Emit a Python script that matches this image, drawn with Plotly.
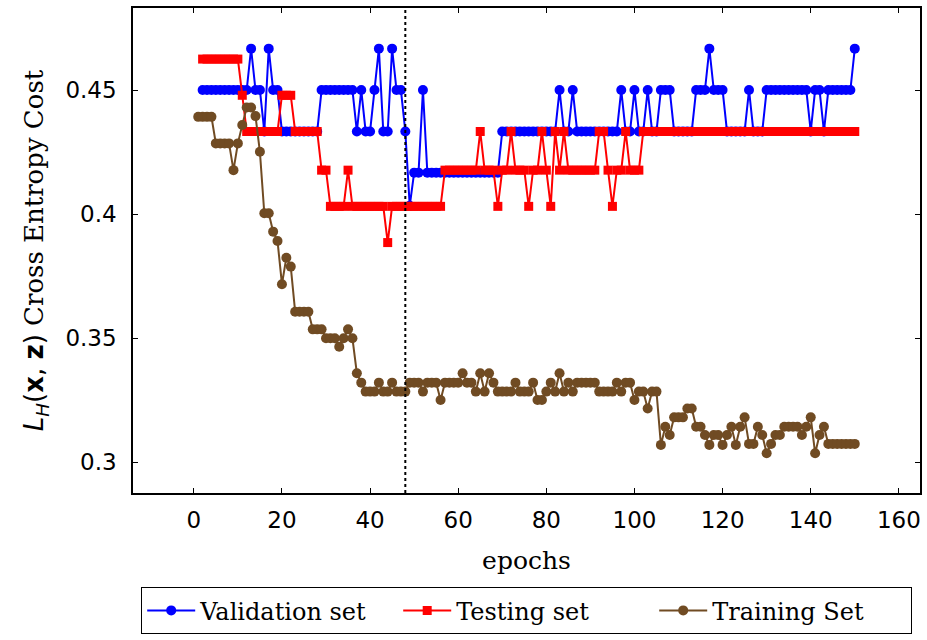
import plotly.graph_objects as go

# epochs
train_epochs = list(range(1, 151))
eval_epochs = list(range(2, 151))

validation_cost = [
    # 2-11
    0.45, 0.45, 0.45, 0.45, 0.45, 0.45, 0.45, 0.45, 0.45, 0.45,
    # 12-21
    0.45, 0.4667, 0.45, 0.45, 0.4333, 0.4667, 0.45, 0.45, 0.4333, 0.4333,
    # 22-31
    0.4333, 0.4333, 0.4333, 0.4333, 0.4333, 0.4333, 0.4333, 0.45, 0.45, 0.45,
    # 32-41
    0.45, 0.45, 0.45, 0.45, 0.45, 0.4333, 0.45, 0.4333, 0.4333, 0.45,
    # 42-51
    0.4667, 0.4333, 0.4333, 0.4667, 0.45, 0.45, 0.4333, 0.4033, 0.4167, 0.4167,
    # 52-61
    0.45, 0.4167, 0.4167, 0.4167, 0.4167, 0.4167, 0.4167, 0.4167, 0.4167, 0.4167,
    # 62-71
    0.4167, 0.4167, 0.4167, 0.4167, 0.4167, 0.4167, 0.4167, 0.4167, 0.4333, 0.4333,
    # 72-81
    0.4333, 0.4333, 0.4333, 0.4333, 0.4333, 0.4333, 0.4333, 0.4333, 0.4333, 0.4333,
    # 82-91
    0.4333, 0.45, 0.4333, 0.4333, 0.45, 0.4333, 0.4333, 0.4333, 0.4333, 0.4333,
    # 92-101
    0.4333, 0.4333, 0.4333, 0.4333, 0.4333, 0.45, 0.4333, 0.4333, 0.45, 0.4333,
    # 102-111
    0.4333, 0.45, 0.4333, 0.4333, 0.45, 0.45, 0.45, 0.4333, 0.4333, 0.4333,
    # 112-121
    0.4333, 0.4333, 0.45, 0.45, 0.45, 0.4667, 0.45, 0.45, 0.45, 0.4333,
    # 122-131
    0.4333, 0.4333, 0.4333, 0.4333, 0.45, 0.4333, 0.4333, 0.4333, 0.45, 0.45,
    # 132-141
    0.45, 0.45, 0.45, 0.45, 0.45, 0.45, 0.45, 0.45, 0.4333, 0.45,
    # 142-150
    0.45, 0.4333, 0.45, 0.45, 0.45, 0.45, 0.45, 0.45, 0.4667,
]

testing_cost = [
    # 2-11
    0.4625, 0.4625, 0.4625, 0.4625, 0.4625, 0.4625, 0.4625, 0.4625, 0.4625, 0.4479,
    # 12-21
    0.4333, 0.4333, 0.4333, 0.4333, 0.4333, 0.4333, 0.4333, 0.4333, 0.4479, 0.4479,
    # 22-31
    0.4479, 0.4333, 0.4333, 0.4333, 0.4333, 0.4333, 0.4333, 0.4177, 0.4177, 0.4031,
    # 32-41
    0.4031, 0.4031, 0.4031, 0.4177, 0.4031, 0.4031, 0.4031, 0.4031, 0.4031, 0.4031,
    # 42-51
    0.4031, 0.4031, 0.3885, 0.4031, 0.4031, 0.4031, 0.4031, 0.4031, 0.4031, 0.4031,
    # 52-61
    0.4031, 0.4031, 0.4031, 0.4031, 0.4031, 0.4177, 0.4177, 0.4177, 0.4177, 0.4177,
    # 62-71
    0.4177, 0.4177, 0.4177, 0.4333, 0.4177, 0.4177, 0.4177, 0.4031, 0.4177, 0.4177,
    # 72-81
    0.4333, 0.4177, 0.4177, 0.4177, 0.4031, 0.4177, 0.4177, 0.4333, 0.4177, 0.4031,
    # 82-91
    0.4333, 0.4177, 0.4333, 0.4177, 0.4177, 0.4177, 0.4177, 0.4177, 0.4177, 0.4177,
    # 92-101
    0.4333, 0.4333, 0.4177, 0.4031, 0.4177, 0.4177, 0.4333, 0.4177, 0.4177, 0.4177,
    # 102-111
    0.4333, 0.4333, 0.4333, 0.4333, 0.4333, 0.4333, 0.4333, 0.4333, 0.4333, 0.4333,
    # 112-121
    0.4333, 0.4333, 0.4333, 0.4333, 0.4333, 0.4333, 0.4333, 0.4333, 0.4333, 0.4333,
    # 122-131
    0.4333, 0.4333, 0.4333, 0.4333, 0.4333, 0.4333, 0.4333, 0.4333, 0.4333, 0.4333,
    # 132-141
    0.4333, 0.4333, 0.4333, 0.4333, 0.4333, 0.4333, 0.4333, 0.4333, 0.4333, 0.4333,
    # 142-150
    0.4333, 0.4333, 0.4333, 0.4333, 0.4333, 0.4333, 0.4333, 0.4333, 0.4333,
]

training_cost = [
    # 1-10
    0.4392, 0.4392, 0.4392, 0.4392, 0.4285, 0.4285, 0.4285, 0.4285, 0.4177, 0.4285,
    # 11-20
    0.4359, 0.443, 0.443, 0.4395, 0.4251, 0.4003, 0.4003, 0.3929, 0.3891, 0.3717,
    # 21-30
    0.3824, 0.3788, 0.3606, 0.3606, 0.3606, 0.3606, 0.3535, 0.3535, 0.3535, 0.3499,
    # 31-40
    0.3499, 0.3499, 0.3465, 0.3499, 0.3535, 0.3499, 0.3358, 0.332, 0.3284, 0.3284,
    # 41-50
    0.3284, 0.332, 0.3284, 0.3284, 0.332, 0.3284, 0.3284, 0.3284, 0.332, 0.332,
    # 51-60
    0.332, 0.3284, 0.332, 0.332, 0.332, 0.325, 0.332, 0.332, 0.332, 0.332,
    # 61-70
    0.3358, 0.332, 0.332, 0.3284, 0.3358, 0.3284, 0.3358, 0.332, 0.3284, 0.3284,
    # 71-80
    0.3284, 0.3284, 0.332, 0.3284, 0.3284, 0.3284, 0.332, 0.325, 0.325, 0.3284,
    # 81-90
    0.332, 0.3284, 0.3358, 0.3284, 0.332, 0.3284, 0.332, 0.332, 0.332, 0.332,
    # 91-100
    0.332, 0.3284, 0.3284, 0.3284, 0.3284, 0.332, 0.3284, 0.332, 0.332, 0.325,
    # 101-110
    0.3284, 0.3284, 0.3216, 0.3284, 0.3284, 0.3069, 0.3142, 0.3109, 0.318, 0.318,
    # 111-120
    0.318, 0.3216, 0.3216, 0.3142, 0.3142, 0.3109, 0.3069, 0.3109, 0.3109, 0.3069,
    # 121-130
    0.3109, 0.3142, 0.3069, 0.3142, 0.318, 0.3073, 0.3073, 0.3142, 0.3109, 0.3035,
    # 131-140
    0.3073, 0.3109, 0.3109, 0.3142, 0.3142, 0.3142, 0.3142, 0.3109, 0.3142, 0.318,
    # 141-150
    0.3035, 0.3109, 0.3142, 0.3073, 0.3073, 0.3073, 0.3073, 0.3073, 0.3073, 0.3073,
]

x_ticks = [0, 20, 40, 60, 80, 100, 120, 140, 160]
y_ticks = [0.3, 0.35, 0.4, 0.45]
y_tick_text = ["0.3", "0.35", "0.4", "0.45"]
marker_epoch = 48

SERIF = "DejaVu Serif"
SANS = "DejaVu Sans"

fig = go.Figure()
fig.add_trace(go.Scatter(
    x=eval_epochs, y=validation_cost, name="Validation set", mode="lines+markers",
    line=dict(color="#0000FF", width=2),
    marker=dict(symbol="circle", size=10, color="#0000FF", line=dict(width=0)),
))
fig.add_trace(go.Scatter(
    x=eval_epochs, y=testing_cost, name="Testing set", mode="lines+markers",
    line=dict(color="#FF0000", width=2),
    marker=dict(symbol="square", size=9, color="#FF0000", line=dict(width=0)),
))
fig.add_trace(go.Scatter(
    x=train_epochs, y=training_cost, name="Training Set", mode="lines+markers",
    line=dict(color="#704B23", width=2),
    marker=dict(symbol="circle", size=10, color="#704B23", line=dict(width=0)),
))

fig.add_shape(type="line", xref="x", yref="paper", x0=marker_epoch, x1=marker_epoch,
              y0=0, y1=1, line=dict(color="black", width=2, dash="dot"))

fig.update_layout(
    width=927, height=640,
    margin=dict(l=133, r=7, t=8, b=147, autoexpand=False),
    paper_bgcolor="white", plot_bgcolor="white",
    showlegend=True,
    legend=dict(
        orientation="h", x=0.5, xanchor="center", y=-0.194, yanchor="top",
        font=dict(family=SERIF, size=24, color="black"),
        bordercolor="black", borderwidth=1.2, bgcolor="white",
        entrywidth=193, entrywidthmode="pixels", itemwidth=48,
    ),
    xaxis=dict(
        range=[-13.8, 164.8], tickvals=x_ticks, automargin=False,
        showline=True, linecolor="black", linewidth=1.5, mirror="ticks",
        ticks="inside", ticklen=5, tickcolor="black",
        showgrid=False, zeroline=False, ticklabelstandoff=6,
        tickfont=dict(family=SANS, size=23, color="black"),
        title=dict(text="epochs", font=dict(family=SERIF, size=25, color="black"), standoff=19),
    ),
    yaxis=dict(
        range=[0.2875, 0.4831], tickvals=y_ticks, ticktext=y_tick_text, automargin=False,
        showline=True, linecolor="black", linewidth=1.5, mirror="ticks",
        ticks="inside", ticklen=5, tickcolor="black",
        showgrid=False, zeroline=False, ticklabelstandoff=10,
        tickfont=dict(family=SANS, size=23, color="black"),
        title=dict(
            text="<span style='font-family:DejaVu Sans'><i>L</i><sub><i>H</i></sub>(<b>x</b>, <b>z</b>)</span> Cross Entropy Cost",
            font=dict(family=SERIF, size=26, color="black"), standoff=14,
        ),
    ),
)

fig.write_html("out.html", post_script="document.body.style.margin='0';",
               config={"displayModeBar": False})
